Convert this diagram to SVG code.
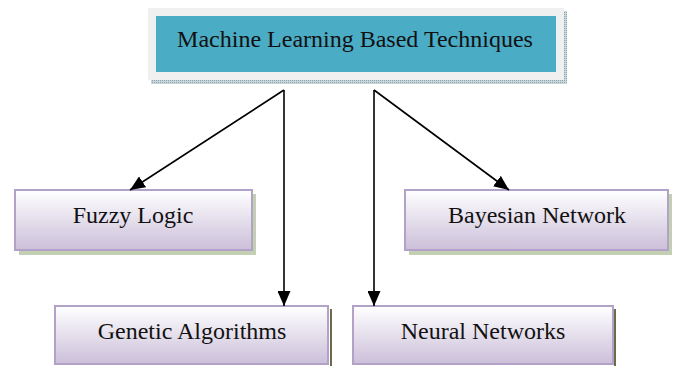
<svg xmlns="http://www.w3.org/2000/svg" width="674" height="366" viewBox="0 0 674 366">
  <defs>
    <linearGradient id="boxFill" x1="0" y1="0" x2="0" y2="1">
      <stop offset="0" stop-color="#ffffff"/>
      <stop offset="1" stop-color="#cbbfd9"/>
    </linearGradient>
    <pattern id="dots" width="2" height="2" patternUnits="userSpaceOnUse">
      <rect width="2" height="2" fill="#c9d6dc"/>
      <rect width="1" height="1" fill="#8fa3ad"/>
    </pattern>
    <marker id="head" viewBox="0 0 15 13" refX="15" refY="6.5" markerWidth="15" markerHeight="13" markerUnits="userSpaceOnUse" orient="auto">
      <path d="M0,0 L15,6.5 L0,13 Z" fill="#000"/>
    </marker>
  </defs>
  <style>
    .label { font-family: "Liberation Serif", "Times New Roman", serif; font-size: 24px; fill: #111; text-anchor: middle; }
    .box { fill: url(#boxFill); stroke: #b3a2c7; stroke-width: 2; }
    .shadow { fill: #c3cfb2; }
    .edge { stroke: #000; stroke-width: 1.6; fill: none; marker-end: url(#head); }
  </style>
  <rect width="674" height="366" fill="#fff"/>

  <g id="root">
    <rect x="151" y="11" width="416" height="73" fill="url(#dots)"/>
    <rect x="148" y="8" width="416" height="72" fill="#f0f0f0"/>
    <rect x="156" y="16" width="400" height="56" fill="#4bacc6"/>
    <text class="label" x="355" y="47">Machine Learning Based Techniques</text>
  </g>

  <g id="fuzzy">
    <rect class="shadow" x="19" y="194" width="237" height="61"/>
    <rect class="box" x="15" y="190" width="237" height="60"/>
    <text class="label" x="133" y="223">Fuzzy Logic</text>
  </g>

  <g id="bayesian">
    <rect class="shadow" x="409" y="194" width="263" height="61"/>
    <rect class="box" x="405" y="190" width="263" height="60"/>
    <text class="label" x="537" y="223">Bayesian Network</text>
  </g>

  <g id="genetic">
    <rect x="330" y="309" width="2" height="57" fill="#6b6b4a"/>
    <rect class="box" x="55" y="306" width="273" height="58"/>
    <text class="label" x="192" y="339">Genetic Algorithms</text>
  </g>

  <g id="neural">
    <rect x="614" y="309" width="2" height="57" fill="#6b6b4a"/>
    <rect class="box" x="353" y="306" width="260" height="58"/>
    <text class="label" x="483" y="339">Neural Networks</text>
  </g>

  <g id="connectors">
    <line class="edge" x1="284" y1="90" x2="130" y2="190"/>
    <line class="edge" x1="284" y1="90" x2="284" y2="306"/>
    <line class="edge" x1="374" y1="90" x2="374" y2="306"/>
    <line class="edge" x1="374" y1="90" x2="509" y2="190"/>
  </g>
</svg>
